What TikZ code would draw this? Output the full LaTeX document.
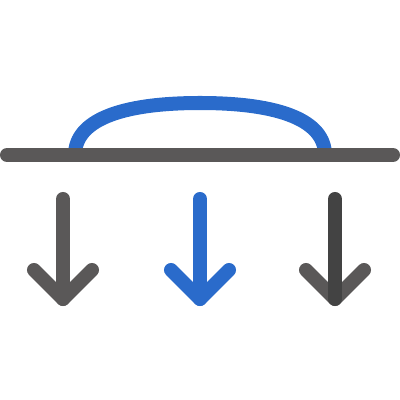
\documentclass[tikz,border=0pt]{standalone}
\usepackage{tikz}

\definecolor{barGray}{HTML}{5A5858}
\definecolor{darkGray}{HTML}{434343}
\definecolor{liftBlue}{HTML}{2A6BCB}

\begin{document}
\begin{tikzpicture}[x=0.01cm,y=0.01cm,base/.style={line width=0.14cm,line cap=round,line join=round},bar/.style={base,draw=barGray},lift/.style={base,draw=liftBlue}]
    \useasboundingbox (0,0) rectangle (400,400);
    %
    \coordinate (l) at (7,245);
    \coordinate (r) at (393,245);
    %
    \coordinate (al) at (75,245);
    \coordinate (at) at (200,297);
    \coordinate (ar) at (325,245);
    \draw[lift] (al) .. controls (75,279) and (119,297) .. (at) .. controls (281,297) and (325,279) .. (ar);
    \draw[bar] (l) -- (r);
    %
    \coordinate (a1) at (63,201);
    \coordinate (t1) at (63,101);
    \draw[bar] (a1) -- (t1);
    \draw[bar] (34,130) -- (t1) -- (92,130);
    %
    \coordinate (a2) at (200,201);
    \coordinate (t2) at (200,101);
    \draw[lift] (a2) -- (t2);
    \draw[lift] (171,130) -- (t2) -- (229,130);
    %
    \coordinate (a3) at (335,201);
    \coordinate (t3) at (335,101);
    \draw[bar] (306,130) -- (t3) -- (364,130);
    \draw[base,draw=darkGray] (a3) -- (t3);
    %
\end{tikzpicture}
\end{document}
